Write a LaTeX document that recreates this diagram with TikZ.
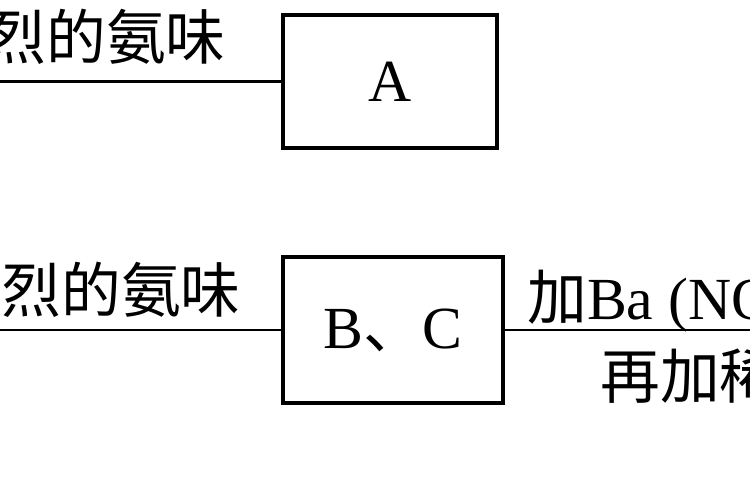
\documentclass[tikz,border=0pt]{standalone}
\usepackage{fontspec}
\setmainfont{Liberation Serif}
\newfontfamily\cjk{Noto Sans CJK SC}
\usetikzlibrary{positioning}
\tikzset{%
  sampleBox/.style={%
    rectangle,
    draw=black,
    line width=1.9pt,
    inner sep=0pt,
    align=center,
    font=\fontsize{34}{40}\selectfont
  },
  stepText/.style={%
    inner sep=0pt,
    font=\fontsize{34}{40}\selectfont
  },
  linkLine/.style={%
    line width=1.7pt,
    color=black
  }
}
\begin{document}
\begin{tikzpicture}[x=0.02cm,y=-0.02cm]
  \useasboundingbox (0,0) rectangle (750,500);
  \clip (0,0) rectangle (750,500);
  \fill[white] (0,0) rectangle (750,500);

  % upper row
  \node[sampleBox, minimum width=4.28cm, minimum height=2.66cm] (boxA) at (390,81.5) {A};
  \coordinate (startA) at (-20,81.5);
  \draw[linkLine] (startA) -- (boxA.west);
  \node[stepText, anchor=base east] (smellA) at (226,60) {\cjk 烈的氨味};

  % lower row
  \node[sampleBox, minimum width=4.4cm, minimum height=2.92cm] (boxBC) at (393,330) {B{\cjk 、}C};
  \coordinate (startBC) at (-20,330);
  \coordinate (endBC) at (770,330);
  \draw[linkLine] (startBC) -- (boxBC.west);
  \draw[linkLine] (boxBC.east) -- (endBC);
  \node[stepText, anchor=base east] (smellBC) at (241,312) {\cjk 烈的氨味};
  \node[stepText, anchor=base west] (addBa) at (527,319) {{\cjk 加}Ba (NO};
  \node[stepText, anchor=base west] (addAcid) at (600,398) {\cjk 再加稀};
\end{tikzpicture}
\end{document}
